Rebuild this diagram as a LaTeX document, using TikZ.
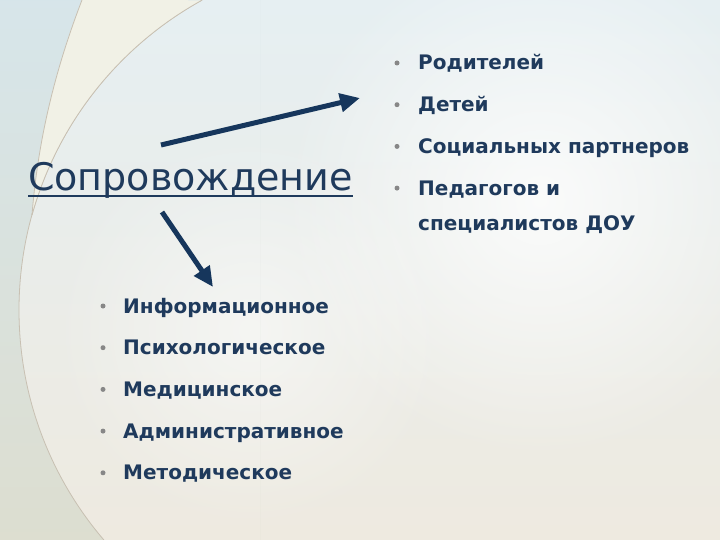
\documentclass[tikz,border=0pt]{standalone}
\usepackage{fontspec}
\setmainfont{DejaVu Sans}
\usetikzlibrary{arrows.meta,fadings}

\definecolor{navy}{RGB}{31,58,92}
\definecolor{arrownavy}{RGB}{22,54,92}
\definecolor{bulletgray}{RGB}{135,135,135}
\definecolor{bgtop}{RGB}{230,239,242}
\definecolor{bgbot}{RGB}{238,234,224}
\definecolor{lefttop}{RGB}{214,230,236}
\definecolor{leftmid}{RGB}{186,210,218}
\definecolor{leftbot}{RGB}{222,220,202}
\definecolor{cream}{RGB}{241,241,230}
\definecolor{arcline}{RGB}{200,192,178}

\tikzfading[name=glow, inner color=transparent!0, outer color=transparent!100]

\tikzstyle{item}=[anchor=base west, inner sep=0pt, text=navy, font=\bfseries\fontsize{20}{24}\selectfont]
\tikzstyle{dot}=[circle, fill=bulletgray, inner sep=0pt, minimum size=5pt]
\tikzstyle{pointer}=[-{Triangle[length=20pt,width=18pt]}, line width=5pt, draw=arrownavy]

\begin{document}
\begin{tikzpicture}[x=1pt, y=-1pt]
  \useasboundingbox (0,0) rectangle (720,540);
  % background
  \shade[top color=bgtop, bottom color=bgbot] (0,0) rectangle (720,540);
  \fill[white, path fading=glow, opacity=0.8] (540,200) circle (260);
  \fill[white, path fading=glow, opacity=0.5] (250,330) circle (200);
  \begin{scope}
    \clip (0,0) rectangle (260,540);
    \shade[even odd rule, top color=lefttop, middle color=leftmid, bottom color=leftbot]
      (0,0) rectangle (260,540) (373,310) circle (354);
    \draw[arcline, line width=0.8pt] (373,310) circle (354);
  \end{scope}
  \fill[cream] (82,0) .. controls (55,70) and (38,140) .. (32,215)
    arc[start angle=195.6, end angle=241.1, radius=354] -- cycle;
  \draw[arcline, line width=0.8pt] (82,0) .. controls (55,70) and (38,140) .. (32,215);
  \draw[arcline, line width=0.8pt] (32,215) arc[start angle=195.6, end angle=241.1, radius=354];

  % title
  \node[anchor=base west, inner sep=0pt, text=navy, font=\fontsize{38}{44}\selectfont]
    (title) at (28,191) {Сопровождение};
  \draw[navy, line width=2.5pt] ([yshift=-5pt]title.base west) -- ([yshift=-5pt]title.base east);

  % right list
  \foreach \t [count=\i] in {Родителей, Детей, Социальных партнеров, Педагогов и} {%
    \node[dot] (rb\i) at (397, {63+41.7*(\i-1)}) {};
    \node[item] (r\i) at (418, {70+41.7*(\i-1)}) {\t};
  }
  \node[item] (r5) at (418,230) {специалистов ДОУ};

  % left list
  \foreach \t [count=\i] in {Информационное, Психологическое, Медицинское, Административное, Методическое} {%
    \node[dot] (lb\i) at (103, {306+41.7*(\i-1)}) {};
    \node[item] (l\i) at (123, {313+41.7*(\i-1)}) {\t};
  }

  % arrows
  \coordinate (upstart) at (161,145);
  \coordinate (uptip) at (360,98);
  \coordinate (downstart) at (162,212);
  \coordinate (downtip) at (213,287);
  \draw[pointer] (upstart) -- (uptip);
  \draw[pointer] (downstart) -- (downtip);
\end{tikzpicture}
\end{document}
